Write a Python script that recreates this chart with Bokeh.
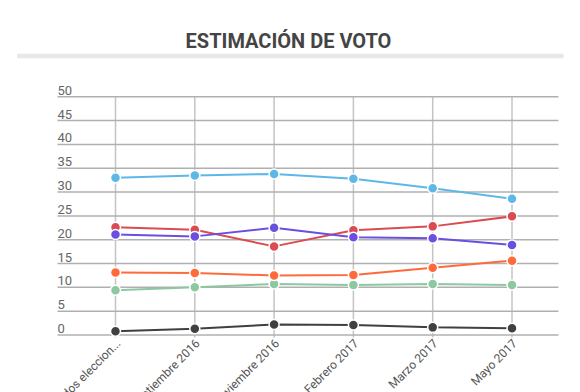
from bokeh.plotting import figure
from bokeh.models import Range1d, Label, BoxAnnotation
from bokeh.core.properties import value
from bokeh.embed import file_html
from bokeh.resources import INLINE
import math

categories = ["Resultados eleccion...", "Septiembre 2016", "Noviembre 2016",
              "Febrero 2017", "Marzo 2017", "Mayo 2017"]
y_ticks = [0, 5, 10, 15, 20, 25, 30, 35, 40, 45, 50]

serie_azul = [33.0, 33.5, 33.8, 32.8, 30.8, 28.6]
serie_roja = [22.6, 22.1, 18.6, 22.0, 22.8, 24.9]
serie_morada = [21.1, 20.7, 22.5, 20.5, 20.3, 18.9]
serie_naranja = [13.1, 13.0, 12.5, 12.6, 14.1, 15.6]
serie_verde = [9.4, 10.0, 10.7, 10.5, 10.7, 10.5]
serie_negra = [0.8, 1.3, 2.2, 2.1, 1.6, 1.4]

series = [
    (serie_verde, "#8dc8a2"),
    (serie_negra, "#404040"),
    (serie_naranja, "#ff6a3b"),
    (serie_roja, "#db4b50"),
    (serie_morada, "#6b4fe0"),
    (serie_azul, "#5db8e8"),
]

W, H = 580, 392
FONT = "Roboto"

# plot-area bounds (in axis units)
X_LEFT, X_RIGHT = -0.7314, 5.586
Y_BOTTOM, Y_TOP = -0.52, 50.0

p = figure(width=W, height=H, output_backend="svg", toolbar_location=None,
           x_axis_location=None, y_axis_location=None,
           x_range=Range1d(-1.4502, 5.8638), y_range=Range1d(-12.07, 70.21),
           min_border=0)
p.min_border_left = p.min_border_right = p.min_border_top = p.min_border_bottom = 0
p.outline_line_color = None
p.background_fill_color = "white"
p.border_fill_color = "white"
p.xgrid.visible = False
p.ygrid.visible = False

xs = list(range(len(categories)))

# grid lines
p.segment(x0=xs, y0=[Y_BOTTOM] * len(xs), x1=xs, y1=[Y_TOP] * len(xs),
          line_color="#c4c4c4", line_width=1.5)
p.segment(x0=[X_LEFT] * len(y_ticks), y0=y_ticks, x1=[X_RIGHT] * len(y_ticks),
          y1=y_ticks, line_color="#b0b0b0", line_width=1.5)

for vals, col in series:
    p.line(xs, vals, line_color=col, line_width=2)
    p.scatter(xs, vals, size=10, fill_color=col, line_color="white", line_width=1.5)

# y tick labels
p.text(x=[X_LEFT] * len(y_ticks), y=y_ticks, text=[str(v) for v in y_ticks],
       text_align="left", text_baseline="bottom", y_offset=-2,
       text_font=value(FONT), text_font_size=value("13px"), text_color="#666666")

# x category labels
p.text(x=xs, y=[Y_BOTTOM] * len(xs), text=categories, text_align="right",
       text_baseline="middle", angle=math.pi / 4, x_offset=3, y_offset=4,
       text_font=value(FONT), text_font_size=value("12px"), text_color="#555555")

# title and separator bar
p.add_layout(Label(x=288, y=352, x_units="screen", y_units="screen",
                   text="ESTIMACIÓN DE VOTO", text_align="center",
                   text_baseline="alphabetic", text_font=FONT,
                   text_font_size="20px", text_font_style="bold",
                   text_color="#444444"))
p.add_layout(BoxAnnotation(left=16.7, right=563, top=338.7, bottom=334.3,
                           left_units="screen", right_units="screen",
                           top_units="screen", bottom_units="screen",
                           fill_color="#e8e8e8", fill_alpha=1, line_color=None))

open("out.html", "w").write(file_html(p, INLINE))
